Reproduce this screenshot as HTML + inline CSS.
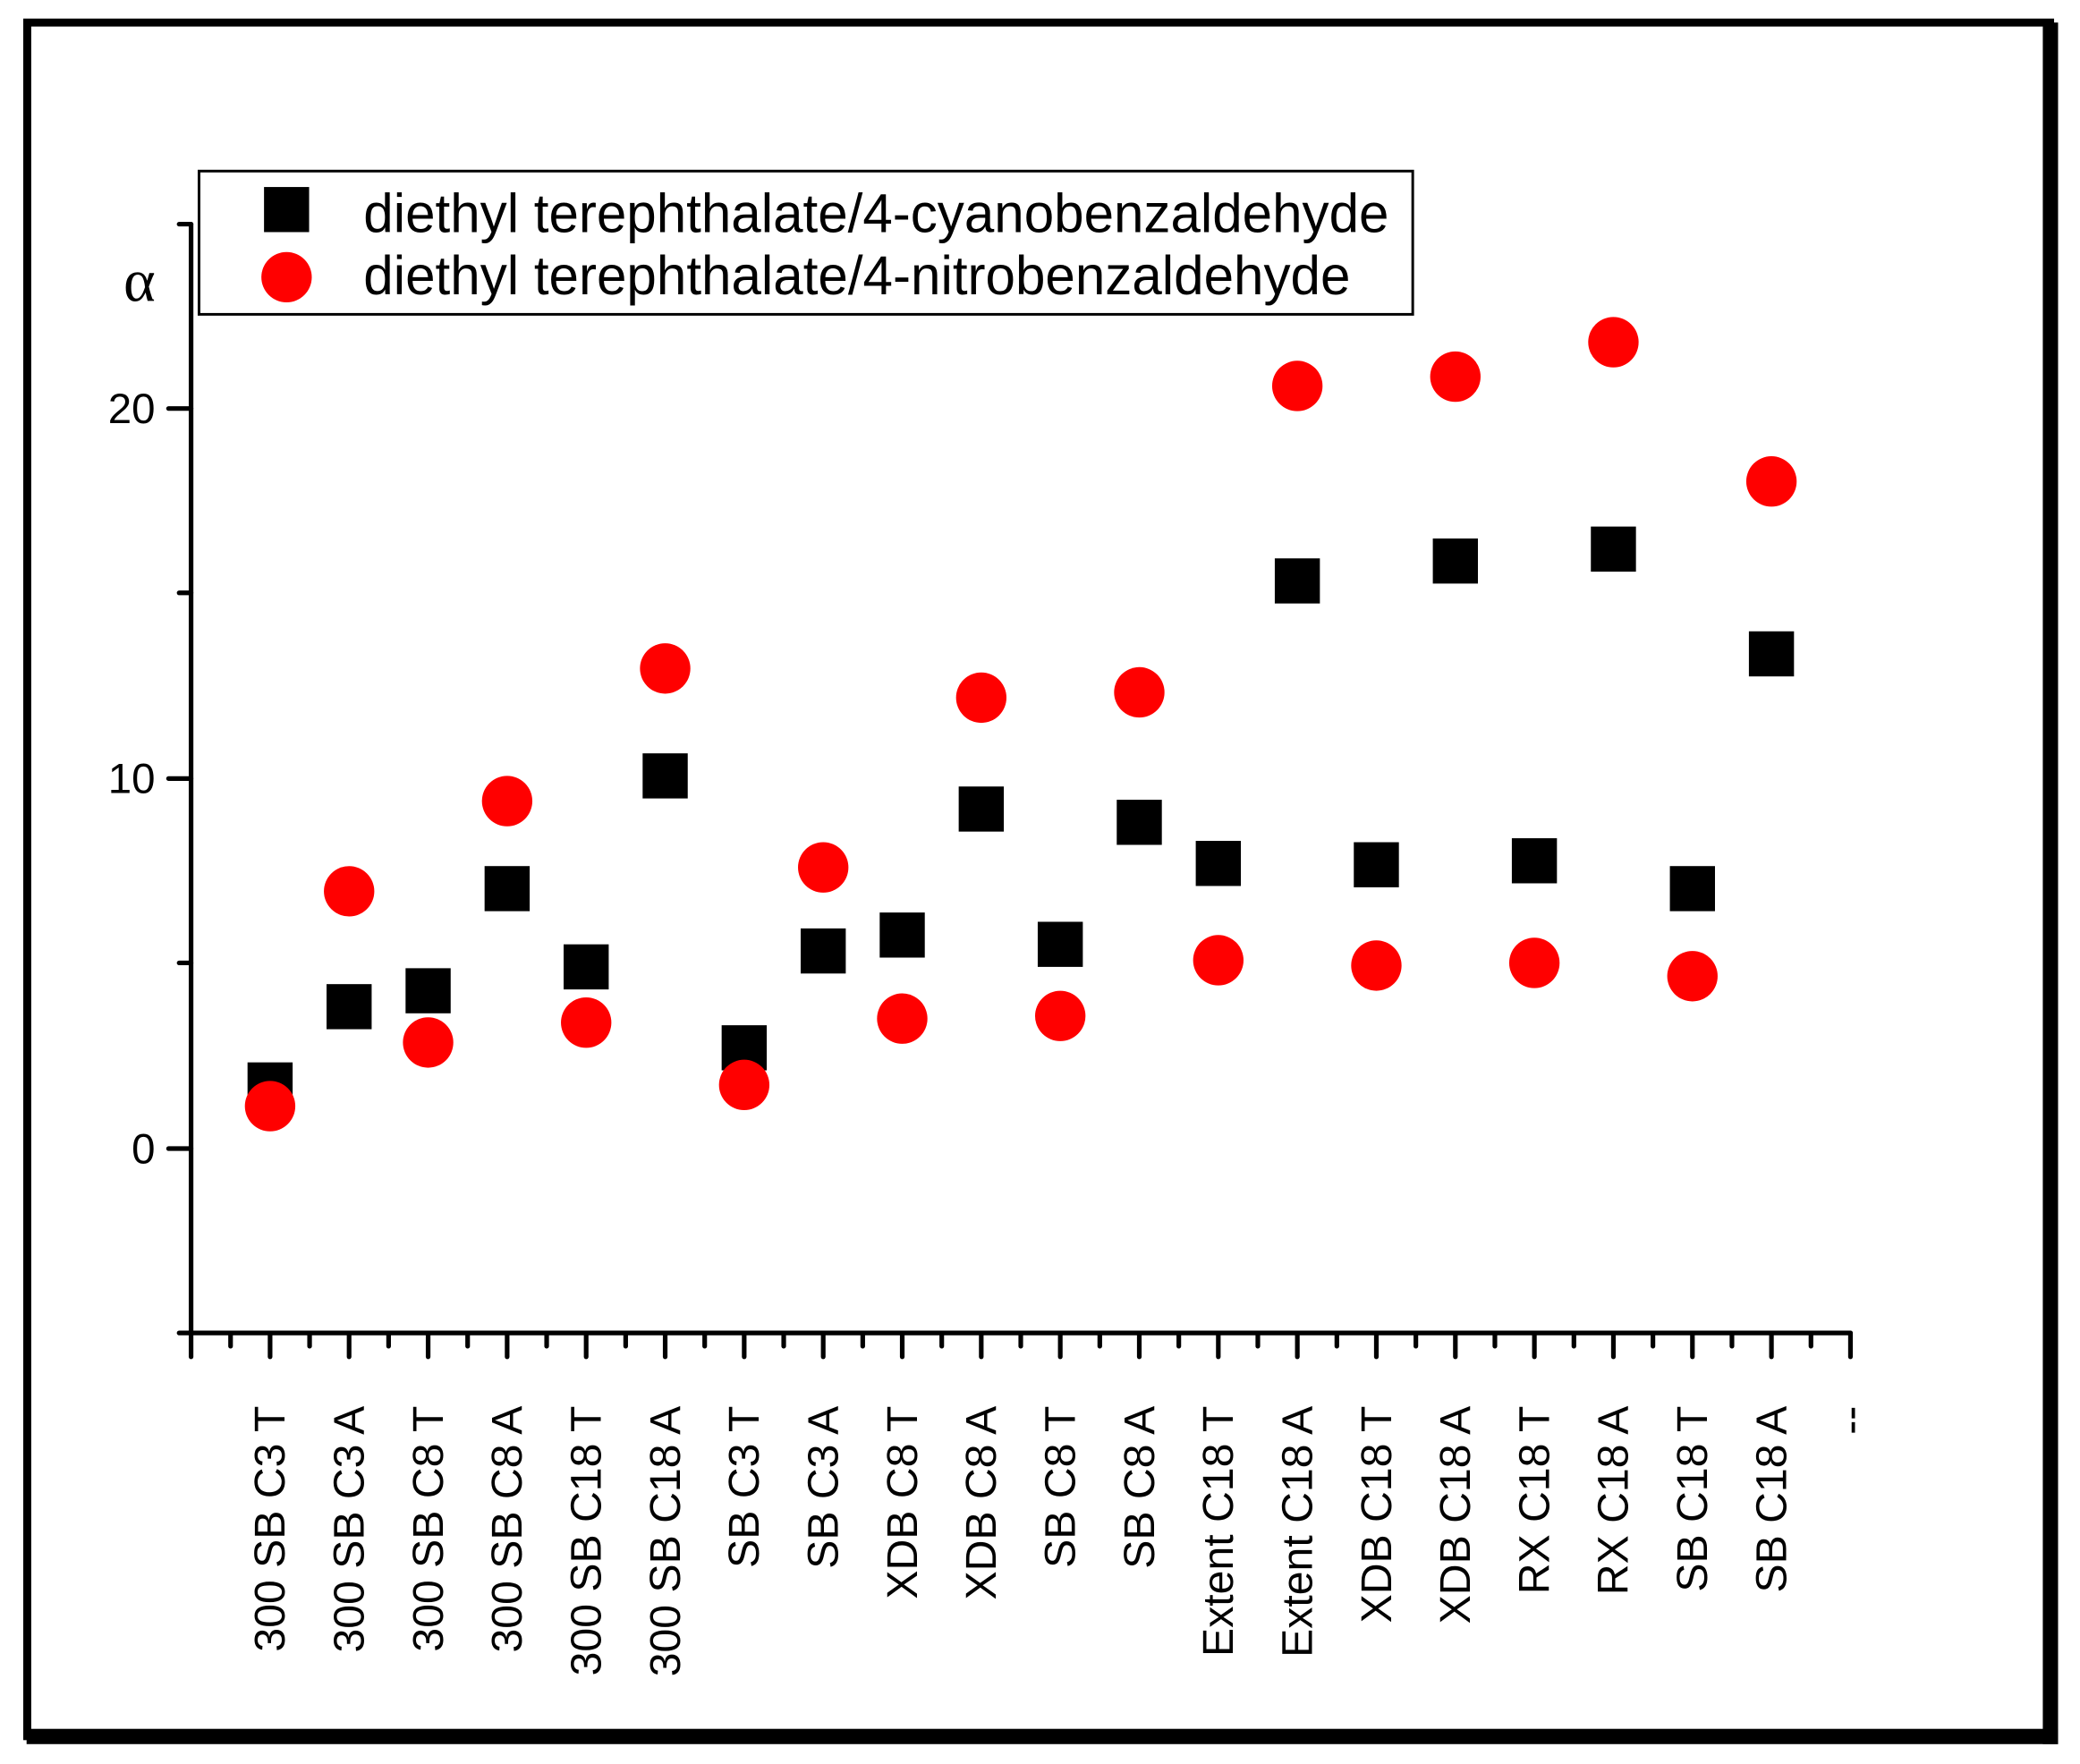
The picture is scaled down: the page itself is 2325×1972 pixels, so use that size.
<!DOCTYPE html>
<html><head><style>html,body{margin:0;padding:0;background:#fff}svg{display:block}</style></head>
<body>
<svg width="2325" height="1972" viewBox="0 0 1568 1330" xmlns="http://www.w3.org/2000/svg" font-family="Liberation Sans, Arial, sans-serif">
<rect x="0" y="0" width="1568" height="1330" fill="#fff"/>
<rect x="20.5" y="17" width="1525" height="1292" fill="none" stroke="#000" stroke-width="6"/>
<rect x="1540" y="17" width="11.5" height="1298" fill="#000"/>
<rect x="20" y="1303.5" width="1531.5" height="11.5" fill="#000"/>
<g stroke="#000" stroke-width="3.5" stroke-linecap="round">
<line x1="144" y1="169" x2="144" y2="1005"/>
<line x1="135" y1="1005" x2="1395" y2="1005"/>
<line x1="135" y1="169" x2="144" y2="169"/>
<line x1="127" y1="308" x2="144" y2="308"/>
<line x1="135" y1="447" x2="144" y2="447"/>
<line x1="127" y1="587" x2="144" y2="587"/>
<line x1="135" y1="726" x2="144" y2="726"/>
<line x1="127" y1="866" x2="144" y2="866"/>
</g>
<g font-size="32" text-anchor="end">
<text x="117" y="319">20</text>
<text x="117" y="598">10</text>
<text x="117" y="877">0</text>
</g>
<text x="93" y="227" font-family="Liberation Serif, serif" font-size="46">α</text>
<g id="xt" stroke="#000" stroke-width="3.5" stroke-linecap="round"></g>
<g id="lab" font-size="32.5" text-anchor="end"></g>
<g id="pts"></g>
<rect x="150" y="129" width="915" height="108" fill="#fff" stroke="#000" stroke-width="2"/>
<rect x="199" y="141" width="34" height="34" fill="#000"/>
<ellipse cx="216" cy="209" rx="19" ry="19" fill="#f00"/>
<text x="274" y="175" font-size="41" textLength="773" lengthAdjust="spacingAndGlyphs">diethyl terephthalate/4-cyanobenzaldehyde</text>
<text x="274" y="222" font-size="41" textLength="744" lengthAdjust="spacingAndGlyphs">diethyl terephthalate/4-nitrobenzaldehyde</text>
<script>
var NS="http://www.w3.org/2000/svg";
var xt=document.getElementById('xt'),lab=document.getElementById('lab'),pts=document.getElementById('pts');
function el(n,a,p){var e=document.createElementNS(NS,n);for(var k in a)e.setAttribute(k,a[k]);p.appendChild(e);return e;}
var sp=(1395-144)/21;
for(var i=0;i<=21;i++){var x=144+sp*i;el('line',{x1:x,y1:1005,x2:x,y2:1023},xt);
 if(i<21){var xm=x+sp/2;el('line',{x1:xm,y1:1005,x2:xm,y2:1015},xt);}}
var names=["300 SB C3 T","300 SB C3 A","300 SB C8 T","300 SB C8 A","300 SB C18 T","300 SB C18 A","SB C3 T","SB C3 A","XDB C8 T","XDB C8 A","SB C8 T","SB C8 A","Extent C18 T","Extent C18 A","XDB C18 T","XDB C18 A","RX C18 T","RX C18 A","SB C18 T","SB C18 A","--"];
for(var i=0;i<21;i++){var x=144+sp*(i+1)+11;var t=el('text',{x:x,y:1060,transform:'rotate(-90 '+x+' 1060)'},lab);t.textContent=names[i];}
var sq=[818,759,747,670,729,585,790,717,705,610,712,620,651,438,652,423,649,414,670,493];
var ci=[834,672,786,604,771,504,818,654,768,526,766,522,724,291,728,284,726,258,736,363];
for(var i=0;i<20;i++){var x=144+sp*(i+1);
 el('rect',{x:x-17,y:sq[i]-17,width:34,height:34,fill:'#000'},pts);
 el('circle',{cx:x,cy:ci[i],r:19,fill:'#f00'},pts);}
</script>
</svg>
</body></html>
